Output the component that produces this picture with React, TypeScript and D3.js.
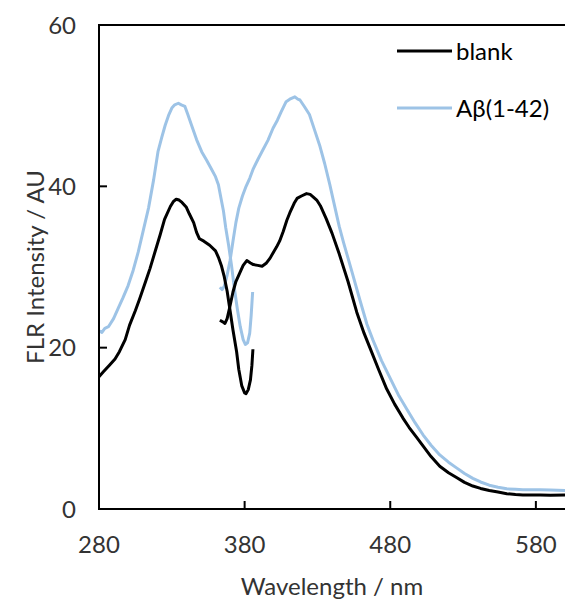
import React, { useEffect, useRef } from 'react';
import * as d3 from 'd3';

// blank scan, first segment (excitation side)
const blankWl1 = [280, 283, 287, 291, 294, 298, 301, 305, 308, 312, 315, 319, 322, 325, 329, 331, 333, 335, 337, 340, 342, 345, 347, 349, 352, 356, 360, 362, 364, 366, 368, 370, 372, 374.5, 376, 378, 380, 381, 382.5, 384, 385, 385.7];
const blankVal1 = [16.4, 17.0, 17.8, 18.6, 19.5, 21.0, 22.8, 24.6, 26.1, 28.2, 29.8, 32.2, 34.0, 35.9, 37.5, 38.1, 38.4, 38.3, 38.0, 37.4, 36.6, 35.5, 34.3, 33.5, 33.2, 32.7, 32.0, 31.2, 30.2, 28.8, 27.0, 24.6, 22.2, 19.5, 17.3, 15.3, 14.4, 14.3, 14.8, 16.0, 17.8, 19.8];

// blank scan, second segment
const blankWl2 = [363, 365, 366.5, 368, 370, 372, 374, 377, 379, 381.5, 384, 386, 389, 392, 395, 397.5, 400, 402, 404, 406.5, 409, 411, 414, 416, 419, 422.5, 425, 427, 429.5, 432, 436, 440, 445, 451, 457, 462, 466, 472, 477.5, 483, 488.6, 493, 498, 503, 508, 514, 520, 525.5, 531, 536.7, 542, 548, 554, 560, 566, 571, 577, 583, 590, 600];
const blankVal2 = [23.4, 23.2, 23.0, 23.6, 25.2, 26.9, 28.2, 29.4, 30.2, 30.8, 30.5, 30.3, 30.2, 30.1, 30.5, 31.1, 31.9, 32.5, 33.2, 34.4, 35.8, 36.7, 37.9, 38.5, 38.8, 39.1, 39.0, 38.7, 38.3, 37.6, 36.0, 34.2, 31.6, 28.2, 24.4, 21.8, 20.0, 17.3, 14.9, 13.0, 11.3, 10.1, 8.9, 7.7, 6.5, 5.3, 4.5, 3.9, 3.3, 2.85, 2.55, 2.3, 2.1, 1.9, 1.8, 1.75, 1.75, 1.75, 1.7, 1.75];

// Abeta(1-42) scan, first segment
const abWl1 = [280, 282, 284, 286.5, 290, 293, 296.5, 300, 303.5, 307, 310.5, 314, 317.5, 320.5, 323, 325.5, 328, 330, 332, 334.5, 336.5, 339, 341, 343.5, 347, 350.5, 354, 357, 360, 362, 364, 365.5, 367, 369, 371, 373, 375, 377, 379, 380.5, 382, 383.5, 384.5, 385.5];
const abVal1 = [22.1, 21.9, 22.4, 22.6, 23.6, 24.8, 26.2, 27.7, 29.6, 31.9, 34.6, 37.3, 40.8, 44.3, 46.0, 47.6, 48.9, 49.7, 50.1, 50.3, 50.1, 49.9, 48.9, 47.6, 45.8, 44.3, 43.2, 42.2, 41.2, 40.2, 38.3, 36.9, 34.9, 32.7, 30.2, 27.3, 24.8, 22.6, 21.0, 20.4, 20.6, 21.8, 24.0, 26.9];

// Abeta(1-42) scan, second segment
const abWl2 = [363, 364.5, 366, 368, 370, 372, 374, 376, 378.5, 381, 383.5, 386, 389, 392.5, 396, 399.5, 402.5, 405, 408.5, 411, 414.5, 416.5, 418, 421, 424.5, 428, 431.5, 435, 438.5, 441, 445, 448, 454, 459, 464, 468, 474, 480, 486, 491, 497, 502.5, 508, 514, 520, 525.5, 531, 536.7, 542, 548, 554, 560, 566, 571, 577, 583, 590, 600];
const abVal2 = [27.5, 27.2, 27.6, 29.0, 30.8, 33.2, 35.5, 37.3, 38.8, 40.0, 41.0, 42.2, 43.3, 44.5, 45.7, 47.2, 48.2, 49.2, 50.5, 50.8, 51.1, 50.8, 50.7, 49.9, 48.9, 47.0, 45.1, 42.8, 40.2, 38.2, 35.0, 33.0, 29.2, 26.0, 22.9, 21.0, 18.4, 16.2, 14.0, 12.5, 10.7, 9.2, 7.9, 6.7, 5.8, 5.1, 4.4, 3.8, 3.35, 2.95, 2.7, 2.5, 2.45, 2.4, 2.4, 2.4, 2.35, 2.3];

const xTicks = [280, 380, 480, 580];
const yTicks = [0, 20, 40, 60];
const seriesNames = ['blank', 'Aβ(1-42)'];
const seriesColors = ['#000000', '#9dc3e6'];

const W = 565;
const H = 599;
const FONT = 'Lato, "Open Sans", sans-serif';

function App() {
  const ref = useRef<SVGSVGElement | null>(null);

  useEffect(() => {
    const svg = d3.select(ref.current);
    svg.selectAll('*').remove();

    const x = d3.scaleLinear().domain([280, 600]).range([99, 565]);
    const y = d3.scaleLinear().domain([0, 60]).range([509, 25]);

    const line = d3.line<[number, number]>()
      .x(d => x(d[0]))
      .y(d => y(d[1]));

    const zip = (a: number[], b: number[]) => a.map((v, i) => [v, b[i]] as [number, number]);

    // blue first, black drawn over it
    const segs = [
      { d: zip(abWl1, abVal1), c: seriesColors[1] },
      { d: zip(abWl2, abVal2), c: seriesColors[1] },
      { d: zip(blankWl1, blankVal1), c: seriesColors[0] },
      { d: zip(blankWl2, blankVal2), c: seriesColors[0] },
    ];
    segs.forEach(s => {
      svg.append('path')
        .datum(s.d)
        .attr('fill', 'none')
        .attr('stroke', s.c)
        .attr('stroke-width', 3)
        .attr('stroke-linejoin', 'round')
        .attr('d', line);
    });

    // frame: top line, left axis, bottom axis
    svg.append('line')
      .attr('x1', x(280)).attr('x2', x(600))
      .attr('y1', y(60)).attr('y2', y(60))
      .attr('stroke', '#000').attr('stroke-width', 2);
    svg.append('line')
      .attr('x1', x(280)).attr('x2', x(280))
      .attr('y1', y(60) - 1).attr('y2', y(0) + 1)
      .attr('stroke', '#000').attr('stroke-width', 2);
    svg.append('line')
      .attr('x1', x(280) - 1).attr('x2', x(600))
      .attr('y1', y(0)).attr('y2', y(0))
      .attr('stroke', '#000').attr('stroke-width', 2);

    // inward ticks
    xTicks.slice(1).forEach(t => {
      svg.append('line')
        .attr('x1', x(t)).attr('x2', x(t))
        .attr('y1', y(0)).attr('y2', y(0) - 8)
        .attr('stroke', '#000').attr('stroke-width', 2);
    });
    yTicks.slice(1, -1).forEach(t => {
      svg.append('line')
        .attr('x1', x(280)).attr('x2', x(280) + 8)
        .attr('y1', y(t)).attr('y2', y(t))
        .attr('stroke', '#000').attr('stroke-width', 2);
    });

    // tick labels
    svg.append('g').selectAll('text')
      .data(xTicks).join('text')
      .attr('x', d => x(d))
      .attr('y', 553)
      .attr('text-anchor', 'middle')
      .attr('font-family', FONT)
      .attr('font-size', 24)
      .attr('fill', '#333')
      .text(d => String(d));
    svg.append('g').selectAll('text')
      .data(yTicks).join('text')
      .attr('x', 76)
      .attr('y', d => y(d) + 8.5)
      .attr('text-anchor', 'end')
      .attr('font-family', FONT)
      .attr('font-size', 24)
      .attr('fill', '#333')
      .text(d => String(d));

    // axis titles
    svg.append('text')
      .attr('x', (x(280) + x(600)) / 2)
      .attr('y', 595)
      .attr('text-anchor', 'middle')
      .attr('font-family', FONT)
      .attr('font-size', 24)
      .attr('fill', '#333')
      .text('Wavelength / nm');
    svg.append('text')
      .attr('transform', `translate(44,${(y(0) + y(60)) / 2}) rotate(-90)`)
      .attr('text-anchor', 'middle')
      .attr('font-family', FONT)
      .attr('font-size', 24)
      .attr('fill', '#333')
      .text('FLR Intensity / AU');

    // legend
    const legY = [51, 108];
    seriesNames.forEach((name, i) => {
      svg.append('line')
        .attr('x1', 397).attr('x2', 452)
        .attr('y1', legY[i]).attr('y2', legY[i])
        .attr('stroke', seriesColors[i])
        .attr('stroke-width', 3);
      svg.append('text')
        .attr('x', 456)
        .attr('y', legY[i] + 8.5)
        .attr('font-family', FONT)
        .attr('font-size', 24)
        .attr('fill', '#000')
        .text(name);
    });
  }, []);

  return (
    <svg
      ref={ref}
      width={W}
      height={H}
      style={{ position: 'absolute', left: 0, top: 0, background: '#fff' }}
    />
  );
}

export default App;
